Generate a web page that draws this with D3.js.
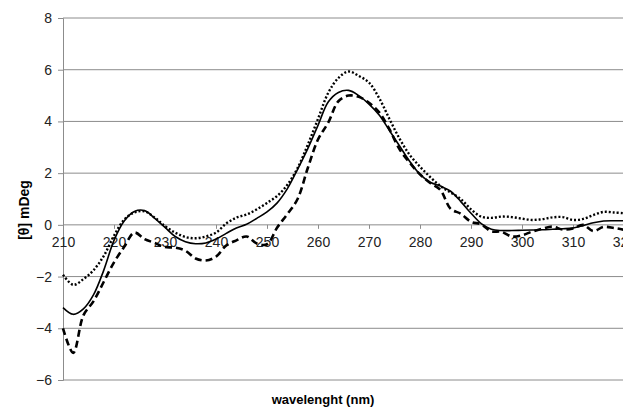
<!DOCTYPE html>
<html>
<head>
<meta charset="utf-8">
<script src="https://cdn.jsdelivr.net/npm/d3@7"></script>
<style>
  body { margin: 0; background: #fff; }
  text { font-family: "Liberation Sans", Arial, sans-serif; }
</style>
</head>
<body>
<div id="chart-area"></div>
<script>
// wavelength samples (nm), every 2 nm
const wavelength = d3.range(210, 321, 2);

// tick labels
const xTicks = [210, 220, 230, 240, 250, 260, 270, 280, 290, 300, 310, 320];
const yTicks = [-6, -4, -2, 0, 2, 4, 6, 8];

// solid trace
const solid = [-3.2, -3.46, -3.25, -2.7, -1.75, -0.6, 0.15, 0.52, 0.55, 0.25,
  -0.1, -0.45, -0.65, -0.73, -0.7, -0.55, -0.33, -0.12, 0.02, 0.25,
  0.5, 0.85, 1.4, 2.15, 2.95, 3.85, 4.75, 5.12, 5.2, 5.0,
  4.67, 4.25, 3.65, 3.05, 2.45, 1.95, 1.65, 1.5, 1.3, 0.9,
  0.45, 0.05, -0.17, -0.22, -0.22, -0.21, -0.2, -0.19, -0.17, -0.15,
  -0.12, -0.03, 0.08, 0.15, 0.16, 0.16];

// dotted trace
const dotted = [-1.93, -2.32, -2.1, -1.75, -1.2, -0.42, 0.2, 0.48, 0.52, 0.28,
  -0.05, -0.3, -0.47, -0.52, -0.45, -0.3, 0.05, 0.28, 0.4, 0.6,
  0.85, 1.12, 1.55, 2.2, 3.1, 4.1, 5.1, 5.68, 5.93, 5.76,
  5.5, 4.9, 4.1, 3.33, 2.7, 2.25, 1.85, 1.5, 1.25, 1.0,
  0.6, 0.32, 0.27, 0.32, 0.3, 0.24, 0.19, 0.22, 0.29, 0.3,
  0.19, 0.23, 0.38, 0.5, 0.48, 0.45];

// dashed trace
const dashed = [-4.0, -4.95, -3.5, -2.95, -2.2, -1.45, -0.85, -0.3, -0.55, -0.7,
  -0.86, -0.88, -1.0, -1.3, -1.38, -1.23, -0.8, -0.6, -0.45, -0.72,
  -0.75, -0.1, 0.42, 1.0, 2.2, 3.3, 3.95, 4.78, 5.0, 4.95,
  4.72, 4.35, 3.7, 2.92, 2.4, 1.95, 1.62, 1.35, 0.62, 0.43,
  0.12, 0.02, -0.25, -0.27, -0.45, -0.4, -0.26, -0.15, -0.07, -0.18,
  -0.14, 0, -0.24, -0.08, -0.12, -0.19];

const W = 623, H = 408;
const margin = { left: 63, right: -1, top: 18, bottom: 28 };
const width = W - margin.left - margin.right,
      height = H - margin.top - margin.bottom;

const svg = d3.select("#chart-area")
  .append("svg")
    .attr("width", W)
    .attr("height", H);

const g = svg.append("g")
  .attr("transform", "translate(" + margin.left + ", " + margin.top + ")");

const x = d3.scaleLinear().domain([210, 320]).range([0, width]);
const y = d3.scaleLinear().domain([-6, 8]).range([height, 0]);

// horizontal gridlines
g.selectAll(".grid")
  .data(yTicks)
  .enter().append("line")
    .attr("x1", 0)
    .attr("x2", width)
    .attr("y1", d => y(d))
    .attr("y2", d => y(d))
    .attr("stroke", "#8c8c8c")
    .attr("stroke-width", 1);

// y axis
const yAxis = g.append("g")
  .call(d3.axisLeft(y).tickValues(yTicks).tickSize(5).tickPadding(6).tickFormat(d3.format("d")));
yAxis.select(".domain").attr("stroke", "#8c8c8c");
yAxis.selectAll(".tick line").attr("stroke", "#8c8c8c");
yAxis.selectAll("text").attr("font-size", 14).attr("fill", "#222");

// x axis sits on the zero line
const xAxis = g.append("g")
  .attr("transform", "translate(0," + y(0) + ")")
  .call(d3.axisBottom(x).tickValues(xTicks).tickSize(4).tickPadding(8));
xAxis.select(".domain").remove();
xAxis.selectAll(".tick line").attr("stroke", "#8c8c8c");
xAxis.selectAll("text").attr("font-size", 14).attr("fill", "#222");

const line = (vals) => d3.line()
  .x((d, i) => x(wavelength[i]))
  .y(d => y(d))
  .curve(d3.curveCatmullRom)(vals);

g.append("path")
  .attr("d", line(dotted))
  .attr("fill", "none")
  .attr("stroke", "#000")
  .attr("stroke-width", 2.4)
  .attr("stroke-dasharray", "2,2");

g.append("path")
  .attr("d", line(dashed))
  .attr("fill", "none")
  .attr("stroke", "#000")
  .attr("stroke-width", 2.6)
  .attr("stroke-dasharray", "7,4");

g.append("path")
  .attr("d", line(solid))
  .attr("fill", "none")
  .attr("stroke", "#000")
  .attr("stroke-width", 1.6);

// axis titles
svg.append("text")
  .attr("transform", "translate(29," + 210 + ") rotate(-90)")
  .attr("text-anchor", "middle")
  .attr("font-size", 14)
  .attr("font-weight", "bold")
  .text("[θ] mDeg");

svg.append("text")
  .attr("x", 323)
  .attr("y", 404)
  .attr("text-anchor", "middle")
  .attr("font-size", 13)
  .attr("font-weight", "bold")
  .text("wavelenght (nm)");
</script>
</body>
</html>
